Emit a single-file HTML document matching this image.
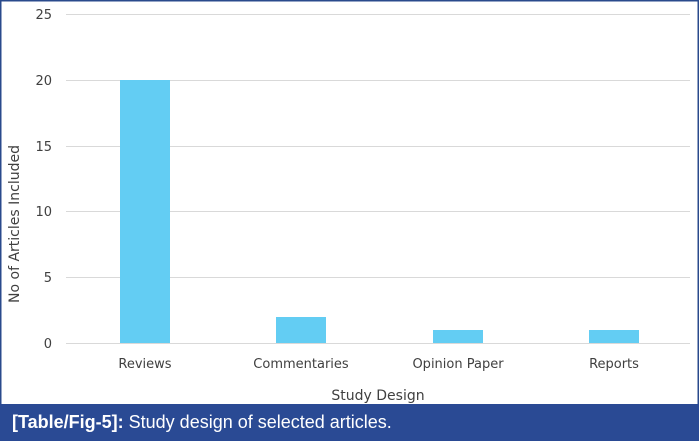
<!DOCTYPE html>
<html><head><style>
body{margin:0;width:699px;height:441px;overflow:hidden;background:#fff;font-family:"DejaVu Sans","Liberation Sans",sans-serif}
</style></head><body>
<svg width="699" height="441" style="position:absolute;left:0;top:0">
<rect x="0.75" y="0.75" width="697.5" height="439" fill="#fff" stroke="#2a4a8c" stroke-width="1.5"/>
<g stroke="#d9d9d9" stroke-width="1">
<line x1="66" x2="690" y1="14.5" y2="14.5"/>
<line x1="66" x2="690" y1="80.5" y2="80.5"/>
<line x1="66" x2="690" y1="146.5" y2="146.5"/>
<line x1="66" x2="690" y1="211.5" y2="211.5"/>
<line x1="66" x2="690" y1="277.5" y2="277.5"/>
<line x1="66" x2="690" y1="343.5" y2="343.5"/>
</g>
<g fill="#63cdf3">
<rect x="120" y="80" width="50" height="263"/>
<rect x="276" y="317" width="50" height="26"/>
<rect x="433" y="330" width="50" height="13"/>
<rect x="589" y="330" width="50" height="13"/>
</g>
<g font-size="13" fill="#404040" text-anchor="end">
<text x="52" y="19">25</text><text x="52" y="85">20</text><text x="52" y="151">15</text>
<text x="52" y="216">10</text><text x="52" y="282">5</text><text x="52" y="348">0</text>
</g>
<g font-size="13" fill="#404040" text-anchor="middle">
<text x="145" y="368">Reviews</text><text x="301" y="368">Commentaries</text>
<text x="458" y="368">Opinion Paper</text><text x="614" y="368">Reports</text>
<text x="378" y="400" font-size="14">Study Design</text>
<text transform="translate(19,224) rotate(-90)" font-size="14">No of Articles Included</text>
</g>
<rect x="0" y="404" width="699" height="37" fill="#2a4a94"/>
<text x="12" y="428" font-family="Liberation Sans,sans-serif" font-size="18" fill="#fff"><tspan font-weight="bold">[Table/Fig-5]:</tspan> Study design of selected articles.</text>
</svg>
</body></html>
